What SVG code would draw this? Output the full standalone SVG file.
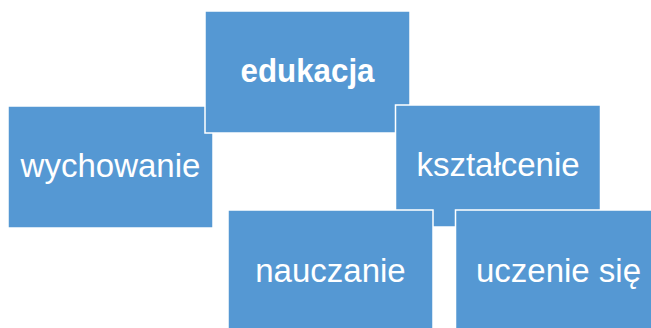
<svg xmlns="http://www.w3.org/2000/svg" width="651" height="328" viewBox="0 0 651 328">
<style>
.box{fill:#5598D3;stroke:#FFFFFF;stroke-width:1.5}
.lbl{font-family:"Liberation Sans",Arial,sans-serif;font-size:33px;fill:#FFFFFF;text-anchor:middle}
.b{font-weight:bold}
</style>
<rect width="651" height="328" fill="#FFFFFF"/>
<g id="connectors"></g>
<g id="wychowanie">
<rect class="box" x="8" y="106" width="205" height="122"/>
<text class="lbl" x="110.5" y="177">wychowanie</text>
</g>
<g id="edukacja">
<rect class="box" x="205" y="11" width="205" height="122"/>
<text class="lbl b" x="307.5" y="82" textLength="134" lengthAdjust="spacingAndGlyphs">edukacja</text>
</g>
<g id="ksztalcenie">
<rect class="box" x="395.5" y="105" width="205" height="122"/>
<text class="lbl" x="498" y="176">kształcenie</text>
</g>
<g id="nauczanie">
<rect class="box" x="228" y="210" width="205" height="122"/>
<text class="lbl" x="330.5" y="282">nauczanie</text>
</g>
<g id="uczenie">
<rect class="box" x="455.5" y="210" width="205" height="122"/>
<text class="lbl" x="558.5" y="282">uczenie się</text>
</g>
</svg>
